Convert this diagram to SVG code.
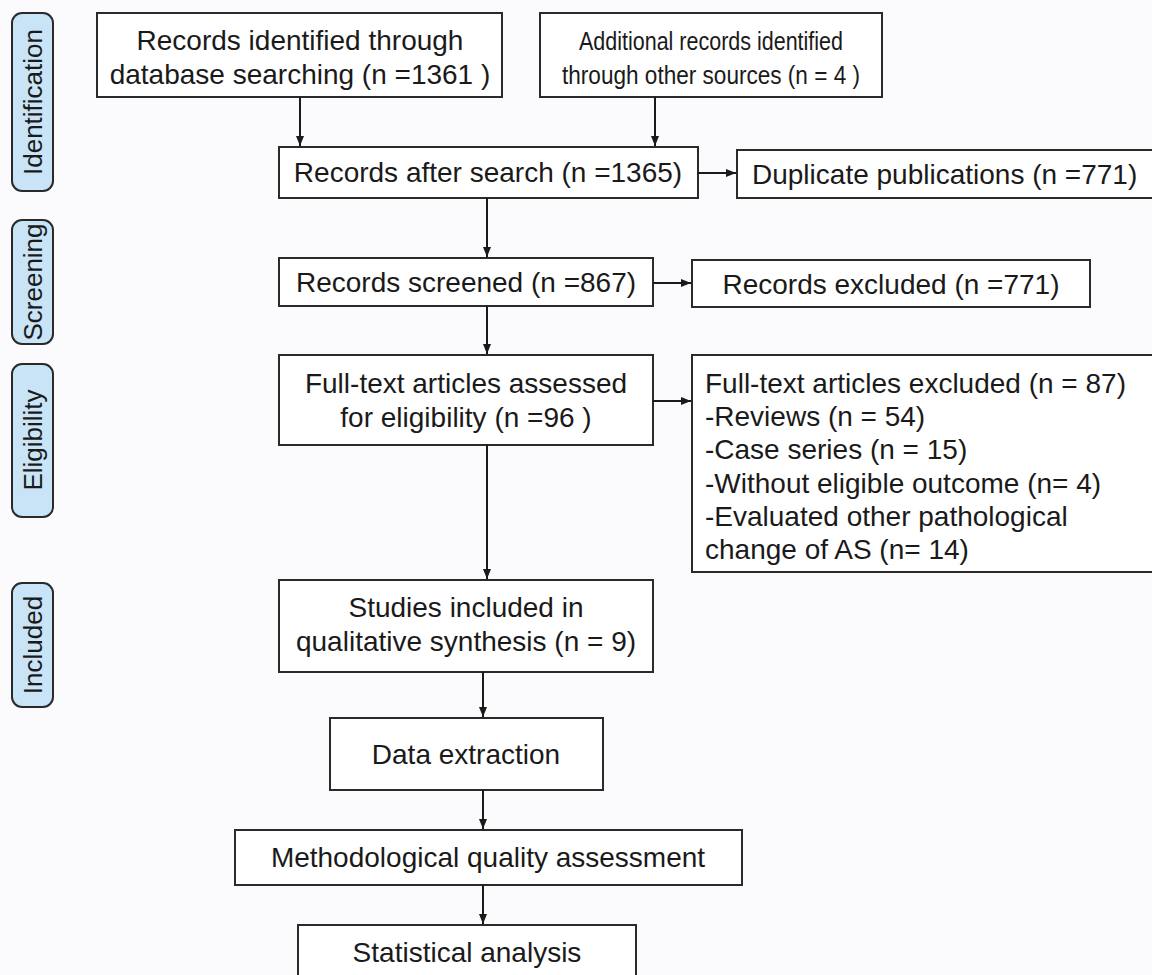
<svg xmlns="http://www.w3.org/2000/svg" width="1152" height="975" viewBox="0 0 1152 975">
<defs>
<style>
.box{fill:#ffffff;stroke:#2a2a2a;stroke-width:2}
.tab{fill:#c8e4f6;stroke:#2a2a2a;stroke-width:2}
.t{font-family:"Liberation Sans",Arial,sans-serif;font-size:28px;fill:#1a1a1a}
.s{font-family:"Liberation Sans",Arial,sans-serif;font-size:26px;fill:#1a1a1a;text-anchor:middle}
.c{text-anchor:middle}
.ln{stroke:#1a1a1a;stroke-width:2;fill:none}
</style>
<marker id="ah" viewBox="0 0 10 10" refX="10" refY="5" markerWidth="10" markerHeight="10" markerUnits="userSpaceOnUse" orient="auto">
<path d="M0,1 L10,5 L0,9 Z" fill="#1a1a1a"/>
</marker>
</defs>
<rect width="1152" height="975" fill="#fbfbfd"/>

<g id="tab-identification"><rect class="tab" x="12" y="13" width="41" height="178" rx="10"/><text class="s" transform="translate(42,102) rotate(-90)">Identification</text></g>
<g id="tab-screening"><rect class="tab" x="12" y="220" width="41" height="124" rx="10"/><text class="s" transform="translate(42,282) rotate(-90)">Screening</text></g>
<g id="tab-eligibility"><rect class="tab" x="12" y="364" width="41" height="153" rx="10"/><text class="s" transform="translate(42,440) rotate(-90)">Eligibility</text></g>
<g id="tab-included"><rect class="tab" x="12" y="583" width="41" height="124" rx="10"/><text class="s" transform="translate(42,645) rotate(-90)">Included</text></g>

<g id="n-database"><rect class="box" x="97" y="13" width="405" height="84"/>
<text class="t c" x="300" y="50">Records identified through</text>
<text class="t c" x="300" y="84">database searching (n =1361 )</text></g>

<g id="n-other"><rect class="box" x="540" y="13" width="342" height="84"/>
<text class="t c" x="711" y="50" style="font-size:26px" textLength="264" lengthAdjust="spacingAndGlyphs">Additional records identified</text>
<text class="t c" x="711" y="84" style="font-size:26px" textLength="298" lengthAdjust="spacingAndGlyphs">through other sources (n = 4 )</text></g>

<g id="n-after"><rect class="box" x="279" y="147" width="419" height="51"/>
<text class="t c" x="488" y="182">Records after search (n =1365)</text></g>

<g id="n-duplicate"><rect class="box" x="737" y="150" width="420" height="48"/>
<text class="t" x="752" y="184">Duplicate publications (n =771)</text></g>

<g id="n-screened"><rect class="box" x="279" y="258" width="374" height="48"/>
<text class="t c" x="466" y="292">Records screened (n =867)</text></g>

<g id="n-excluded"><rect class="box" x="692" y="260" width="398" height="47"/>
<text class="t c" x="891" y="294">Records excluded (n =771)</text></g>

<g id="n-fulltext"><rect class="box" x="279" y="355" width="374" height="90"/>
<text class="t c" x="466" y="393">Full-text articles assessed</text>
<text class="t c" x="466" y="427">for eligibility (n =96 )</text></g>

<g id="n-ftexcluded"><rect class="box" x="692" y="355" width="465" height="217"/>
<text class="t" x="705" y="393">Full-text articles excluded (n = 87)</text>
<text class="t" x="705" y="426">-Reviews (n = 54)</text>
<text class="t" x="705" y="459">-Case series (n = 15)</text>
<text class="t" x="705" y="493">-Without eligible outcome (n= 4)</text>
<text class="t" x="705" y="526">-Evaluated other pathological</text>
<text class="t" x="705" y="559">change of AS (n= 14)</text></g>

<g id="n-studies"><rect class="box" x="279" y="580" width="374" height="92"/>
<text class="t c" x="466" y="617">Studies included in</text>
<text class="t c" x="466" y="651">qualitative synthesis (n = 9)</text></g>

<g id="n-data"><rect class="box" x="330" y="718" width="273" height="72"/>
<text class="t c" x="466" y="764">Data extraction</text></g>

<g id="n-method"><rect class="box" x="235" y="830" width="507" height="55"/>
<text class="t c" x="488" y="867">Methodological quality assessment</text></g>

<g id="n-stat"><rect class="box" x="298" y="925" width="338" height="60"/>
<text class="t c" x="467" y="962">Statistical analysis</text></g>

<g id="connectors">
<line class="ln" x1="300" y1="97" x2="300" y2="146" marker-end="url(#ah)"/>
<line class="ln" x1="655" y1="97" x2="655" y2="146" marker-end="url(#ah)"/>
<line class="ln" x1="698" y1="173" x2="736" y2="173" marker-end="url(#ah)"/>
<line class="ln" x1="487" y1="198" x2="487" y2="257" marker-end="url(#ah)"/>
<line class="ln" x1="653" y1="283" x2="691" y2="283" marker-end="url(#ah)"/>
<line class="ln" x1="487" y1="306" x2="487" y2="354" marker-end="url(#ah)"/>
<line class="ln" x1="653" y1="401" x2="691" y2="401" marker-end="url(#ah)"/>
<line class="ln" x1="487" y1="445" x2="487" y2="579" marker-end="url(#ah)"/>
<line class="ln" x1="483" y1="672" x2="483" y2="717" marker-end="url(#ah)"/>
<line class="ln" x1="483" y1="790" x2="483" y2="829" marker-end="url(#ah)"/>
<line class="ln" x1="483" y1="885" x2="483" y2="924" marker-end="url(#ah)"/>
</g>
</svg>
